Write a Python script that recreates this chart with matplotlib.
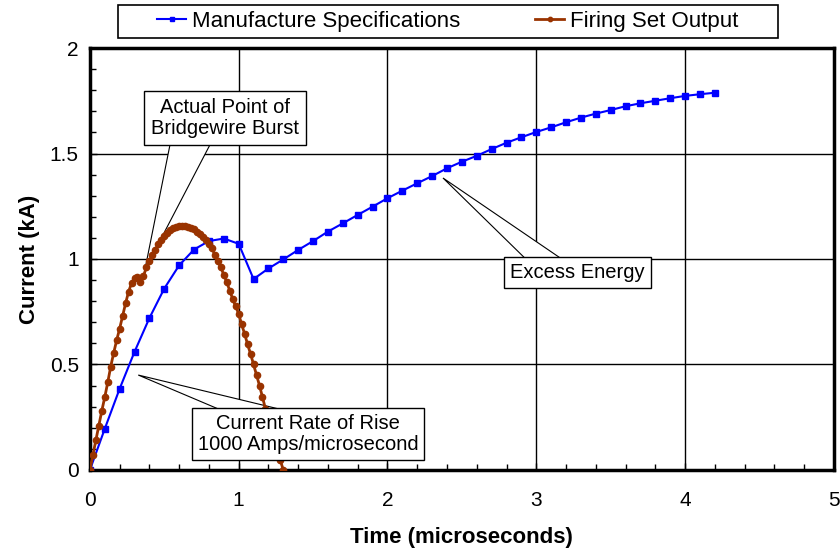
import matplotlib
matplotlib.use("Agg")
import matplotlib.pyplot as plt
from matplotlib.patches import Rectangle, Polygon
from matplotlib.ticker import MultipleLocator

plt.rcParams['font.family'] = ['Liberation Sans', 'DejaVu Sans']

# manufacturer curve, one point every 0.1 us
spec_time = [0.0, 0.1, 0.2, 0.3, 0.4, 0.5, 0.6, 0.7, 0.8, 0.9, 1.0, 1.1, 1.2, 1.3, 1.4,
             1.5, 1.6, 1.7, 1.8, 1.9, 2.0, 2.1, 2.2, 2.3, 2.4, 2.5, 2.6, 2.7, 2.8, 2.9,
             3.0, 3.1, 3.2, 3.3, 3.4, 3.5, 3.6, 3.7, 3.8, 3.9, 4.0, 4.1, 4.2]
spec_current = [0.0, 0.195, 0.385, 0.56, 0.72, 0.86, 0.97, 1.045, 1.085, 1.097, 1.072,
                0.905, 0.955, 0.998, 1.043, 1.085, 1.13, 1.169, 1.209, 1.248, 1.288,
                1.324, 1.359, 1.393, 1.43, 1.461, 1.489, 1.521, 1.551, 1.577, 1.602,
                1.624, 1.648, 1.67, 1.689, 1.706, 1.724, 1.738, 1.75, 1.762, 1.773,
                1.781, 1.788]

# measured firing set output
fire_time = [0.0, 0.02, 0.04, 0.06, 0.08, 0.10, 0.12, 0.14, 0.16, 0.18, 0.20, 0.22,
             0.24, 0.26, 0.28, 0.30, 0.32, 0.34, 0.36, 0.38, 0.40, 0.42, 0.44, 0.46,
             0.48, 0.50, 0.52, 0.54, 0.56, 0.58, 0.60, 0.62, 0.64, 0.66, 0.68, 0.70,
             0.72, 0.74, 0.76, 0.78, 0.80, 0.82, 0.84, 0.86, 0.88, 0.90, 0.92, 0.94,
             0.96, 0.98, 1.00, 1.02, 1.04, 1.06, 1.08, 1.10, 1.12, 1.14, 1.16, 1.18,
             1.20, 1.22, 1.24, 1.26, 1.28, 1.30]
fire_current = [0.0, 0.07, 0.14, 0.21, 0.28, 0.345, 0.415, 0.49, 0.555, 0.615, 0.67,
                0.73, 0.79, 0.845, 0.885, 0.91, 0.915, 0.89, 0.92, 0.96, 0.99, 1.02,
                1.045, 1.07, 1.09, 1.11, 1.125, 1.138, 1.146, 1.152, 1.156, 1.158,
                1.157, 1.154, 1.148, 1.14, 1.13, 1.118, 1.104, 1.088, 1.07, 1.05,
                1.02, 0.99, 0.96, 0.925, 0.89, 0.85, 0.81, 0.775, 0.74, 0.69, 0.645,
                0.595, 0.55, 0.50, 0.45, 0.40, 0.345, 0.29, 0.24, 0.19, 0.14, 0.095,
                0.045, 0.0]

# callouts: text, text centre, pointer tip, pointer base (two points under the box)
callouts = [
    ('Actual Point of\nBridgewire Burst', (0.907, 1.668), (0.37, 0.95),
     [(0.538, 1.54), (0.806, 1.54)], 0.35),
    ('Excess Energy', (3.276, 0.938), (2.373, 1.384),
     [(2.944, 0.99), (3.192, 0.99)], 0.3),
    ('Current Rate of Rise\n1000 Amps/microsecond', (1.465, 0.171), (0.325, 0.45),
     [(0.894, 0.28), (1.324, 0.28)], 0.3),
]

fig = plt.figure(figsize=(8.4, 5.5), dpi=100)
ax = fig.add_axes([0.107, 0.1455, 0.8857, 0.7672])

ax.plot(spec_time, spec_current, color='#0000FF', lw=1.5, marker='s', ms=5,
        label='Manufacture Specifications', zorder=3)
ax.plot(fire_time, fire_current, color='#993300', lw=2.0, marker='o', ms=4.5,
        label='Firing Set Output', zorder=4)

ax.set_xlim(0, 5)
ax.set_ylim(0, 2)
ax.xaxis.set_major_locator(MultipleLocator(1))
ax.xaxis.set_minor_locator(MultipleLocator(0.2))
ax.yaxis.set_minor_locator(MultipleLocator(0.1))
ax.set_yticks([0, 0.5, 1, 1.5, 2])
ax.set_yticklabels(['0', '0.5', '1', '1.5', '2'])
ax.grid(True, which='major', color='black', lw=1)
ax.tick_params(which='both', direction='in', labelsize=15, width=1, color='black')
ax.tick_params(which='major', length=5)
ax.tick_params(which='minor', length=4)
ax.tick_params(axis='x', pad=15)
ax.tick_params(axis='y', pad=8)
for s in ax.spines.values():
    s.set_linewidth(2.5)

ax.set_xlabel('Time (microseconds)', fontsize=16, fontweight='bold')
ax.set_ylabel('Current (kA)', fontsize=16, fontweight='bold')
ax.xaxis.set_label_coords(0.5, -0.135)
ax.yaxis.set_label_coords(-0.067, 0.5)

for text, pos, tip, base, pad in callouts:
    # pointer sits over the grid but under the data lines
    ax.add_patch(Polygon([tip, base[0], base[1]], closed=True, fc='white', ec='black',
                         lw=0.8, zorder=2.7))
    ax.text(pos[0], pos[1], text, ha='center', va='center', fontsize=14.5,
            linespacing=1.1, zorder=6,
            bbox=dict(boxstyle='square,pad=%s' % pad, fc='white', ec='black', lw=1))

# legend sits above the plot in its own box
fig.add_artist(Rectangle((0.1405, 0.9309), 0.7857, 0.06, transform=fig.transFigure,
                         fc='white', ec='black', lw=1.2))
fig.legend(loc='center', bbox_to_anchor=(0.533, 0.961), ncol=2, frameon=False,
           fontsize=16, handlelength=1.3, handletextpad=0.25, columnspacing=3.4,
           markerscale=0.7)

fig.savefig('out.png', dpi=100)
